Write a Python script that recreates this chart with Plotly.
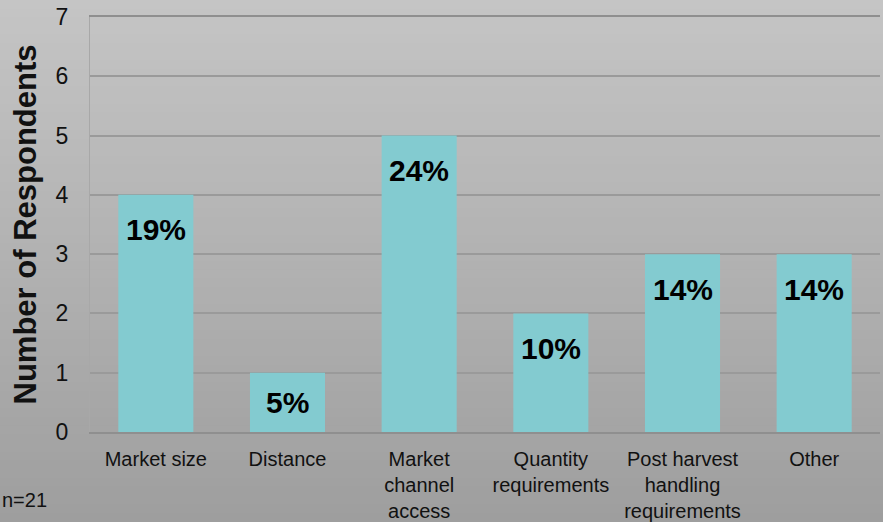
import plotly.graph_objects as go

categories = ["Market size", "Distance", "Market<br>channel<br>access",
              "Quantity<br>requirements", "Post harvest<br>handling<br>requirements", "Other"]
respondents = [4, 1, 5, 2, 3, 3]
percent_labels = ["19%", "5%", "24%", "10%", "14%", "14%"]
y_ticks = [0, 1, 2, 3, 4, 5, 6, 7]

W, H = 883, 522
L, R, T, B = 90, 3, 17, 90
pw, ph = W - L - R, H - T - B
Y_MAX = 7

fig = go.Figure()
fig.add_trace(go.Bar(
    x=categories, y=respondents,
    marker=dict(color="#83CBD0", line=dict(width=0)),
    hoverinfo="skip",
))

# data labels: near the top of the bar, centred when the bar is short
for c, v, t in zip(categories, respondents, percent_labels):
    bar_px = v * ph / Y_MAX
    fig.add_annotation(x=c, y=v, xref="x", yref="y", text="<b>%s</b>" % t,
                       showarrow=False, yanchor="middle", yshift=-min(35, bar_px / 2),
                       font=dict(family="Liberation Sans, Arial", size=30, color="#000000"))

# background gradient (stepped bands)
n = 60
top_c, bot_c = 197, 158
shapes = []
for i in range(n):
    py0 = H * i / n - 0.5
    py1 = H * (i + 1) / n + 0.5
    if i == n - 1:
        py1 = H + 20
    g = round(top_c + (bot_c - top_c) * (i + 0.5) / n)
    shapes.append(dict(type="rect", xref="paper", yref="paper",
                       x0=(-10 - L) / pw, x1=(W + 10 - L) / pw,
                       y0=(H - B - py1) / ph, y1=(H - B - py0) / ph,
                       fillcolor="rgb(%d,%d,%d)" % (g, g, g), line=dict(width=0),
                       layer="below"))
fig.update_layout(shapes=shapes)

fig.add_annotation(text="n=21", xref="paper", yref="paper",
                   x=(0 - L) / pw, y=(H - B - 500) / ph, xanchor="left", yanchor="middle",
                   showarrow=False,
                   font=dict(family="Liberation Sans, Arial", size=20, color="#111111"))

fig.update_layout(
    width=W, height=H,
    margin=dict(l=L, r=R, t=T, b=B, pad=0),
    paper_bgcolor="rgb(160,160,160)",
    plot_bgcolor="rgba(0,0,0,0)",
    showlegend=False,
    bargap=0.43,
    font=dict(family="Liberation Sans, Arial", color="#111111"),
    xaxis=dict(
        automargin=False,
        showgrid=False, showline=True, mirror=True, linecolor="#8f8f8f", linewidth=1.5,
        ticks="outside", ticklen=8, tickcolor="rgba(0,0,0,0)",
        tickfont=dict(size=20, color="#111111"),
    ),
    yaxis=dict(
        automargin=False,
        range=[0, Y_MAX], tickvals=y_ticks, showgrid=True, gridcolor="#9a9a9a", gridwidth=1.5,
        showline=True, linecolor="#a8a8a8", linewidth=1, zeroline=False,
        ticks="outside", ticklen=16, tickcolor="rgba(0,0,0,0)",
        tickfont=dict(size=23, color="#111111"),
        title=dict(text="<b>Number of Respondents</b>", standoff=9,
                   font=dict(size=31, color="#111111")),
    ),
)

fig.write_html("out.html", config={"displayModeBar": False},
               post_script="document.body.style.margin='0';document.body.style.overflow='hidden';")
